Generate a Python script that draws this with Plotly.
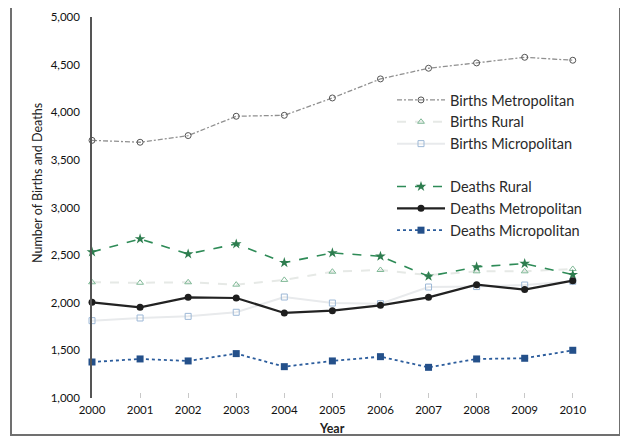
import plotly.graph_objects as go

years = [2000, 2001, 2002, 2003, 2004, 2005, 2006, 2007, 2008, 2009, 2010]

births_metro = [3705, 3685, 3755, 3958, 3968, 4150, 4350, 4462, 4518, 4577, 4546]
births_rural = [2215, 2210, 2215, 2190, 2240, 2326, 2344, 2290, 2330, 2330, 2355]
births_micro = [1812, 1840, 1857, 1900, 2060, 1997, 1990, 2165, 2170, 2186, 2225]
deaths_rural = [2533, 2670, 2512, 2617, 2421, 2523, 2488, 2278, 2376, 2411, 2295]
deaths_metro = [2005, 1952, 2057, 2050, 1893, 1917, 1973, 2057, 2190, 2138, 2232]
deaths_micro = [1378, 1410, 1389, 1466, 1329, 1389, 1434, 1322, 1410, 1417, 1501]

y_ticks = [1000, 1500, 2000, 2500, 3000, 3500, 4000, 4500, 5000]
y_tick_labels = ["1,000", "1,500", "2,000", "2,500", "3,000", "3,500", "4,000", "4,500", "5,000"]

FONT = "Lato"
fig = go.Figure()

fig.add_trace(go.Scatter(
    x=years, y=births_metro, name="Births Metropolitan", legendgroup="births",
    mode="lines+markers", cliponaxis=False,
    line=dict(color="#909090", width=1.3, dash="5px,2px,2px,2px"),
    marker=dict(symbol="circle-open", size=6, color="#555555", line=dict(width=1)),
))
fig.add_trace(go.Scatter(
    x=years, y=births_rural, name="Births Rural", legendgroup="births",
    mode="lines+markers", cliponaxis=False,
    line=dict(color="#e6e9e6", width=2, dash="dash"),
    marker=dict(symbol="triangle-up-open", size=6, color="#7fb896", line=dict(width=1)),
))
fig.add_trace(go.Scatter(
    x=years, y=births_micro, name="Births Micropolitan", legendgroup="births",
    mode="lines+markers", cliponaxis=False,
    line=dict(color="#e8eaec", width=2),
    marker=dict(symbol="square-open", size=6, color="#9db8d6", line=dict(width=1)),
))
fig.add_trace(go.Scatter(
    x=years, y=deaths_rural, name="Deaths Rural", legendgroup="deaths",
    mode="lines+markers", cliponaxis=False,
    line=dict(color="#2e8b57", width=1.6, dash="dash"),
    marker=dict(symbol="star", size=8, color="#2e7d4f"),
))
fig.add_trace(go.Scatter(
    x=years, y=deaths_metro, name="Deaths Metropolitan", legendgroup="deaths",
    mode="lines+markers", cliponaxis=False,
    line=dict(color="#222222", width=2.2),
    marker=dict(symbol="circle", size=7, color="#1e1e1e"),
))
fig.add_trace(go.Scatter(
    x=years, y=deaths_micro, name="Deaths Micropolitan", legendgroup="deaths",
    mode="lines+markers", cliponaxis=False,
    line=dict(color="#2b5c9c", width=1.8, dash="dot"),
    marker=dict(symbol="square", size=7, color="#24508a"),
))

# The page adds an 8px body margin, so the figure is drawn 8px right/down.
OFF = 8
W, H = 628 - OFF, 439 - OFF
L, R, T, B = 92 - OFF, 592 - OFF, 17 - OFF, 398 - OFF

def px(xp):
    return (xp - OFF - L) / (R - L)

def py(yp):
    return (B - (yp - OFF)) / (B - T)

fig.update_layout(
    width=W, height=H,
    margin=dict(l=L, r=W - R, t=T, b=H - B, autoexpand=False),
    paper_bgcolor="white", plot_bgcolor="white",
    font=dict(family=FONT, color="#222222"),
    showlegend=True,
    legend=dict(
        x=px(392), y=py(84), xanchor="left", yanchor="top",
        bgcolor="rgba(0,0,0,0)", borderwidth=0,
        font=dict(family=FONT, size=14.5, color="#2a2a2a"),
        traceorder="grouped", tracegroupgap=21, itemwidth=48,
    ),
    xaxis=dict(
        range=[2000, 2010.4], tickmode="array", tickvals=years,
        ticktext=[str(y) for y in years],
        showline=False, showgrid=False, zeroline=False,
        ticks="inside", ticklen=5, tickcolor="#c8c8c8",
        tickfont=dict(family=FONT, size=11.5, color="#111111"),
        ticklabelstandoff=3,
    ),
    yaxis=dict(
        range=[1000, 5000], tickmode="array", tickvals=y_ticks, ticktext=y_tick_labels,
        showline=True, linecolor="#555555", linewidth=1.5,
        showgrid=False, zeroline=False, ticks="",
        tickfont=dict(family=FONT, size=11.5, color="#111111"),
        ticklabelstandoff=8,
    ),
    annotations=[
        dict(text="<b>Year</b>", xref="paper", yref="paper", x=px(332), y=py(428),
             xanchor="center", yanchor="middle", showarrow=False,
             font=dict(family=FONT, size=12.5, color="#222222")),
        dict(text="Number of Births and Deaths", xref="paper", yref="paper",
             x=px(37), y=py(183), xanchor="center", yanchor="middle", textangle=-90,
             showarrow=False, font=dict(family=FONT, size=12.5, color="#222222")),
    ],
    shapes=[
        dict(type="rect", xref="paper", yref="paper",
             x0=px(11), x1=px(620), y0=py(435), y1=py(6),
             line=dict(color="#707070", width=2), fillcolor="rgba(0,0,0,0)", layer="above"),
    ],
)

fig.write_html("out.html")
